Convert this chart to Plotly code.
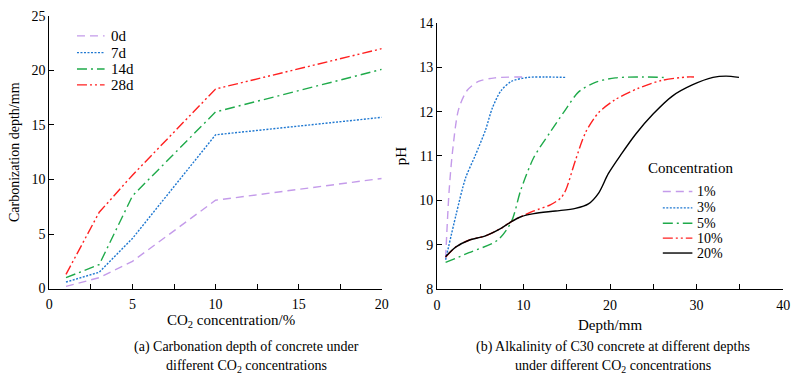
import plotly.graph_objects as go

# ---------- data: panel (a) ----------
conc_a = [1, 3, 5, 10, 20]
days_names = ["0d", "7d", "14d", "28d"]
depth_0d = [0.2, 1.0, 2.5, 8.1, 10.1]
depth_7d = [0.6, 1.5, 4.6, 14.1, 15.7]
depth_14d = [1.0, 2.2, 8.5, 16.2, 20.1]
depth_28d = [1.3, 7.0, 10.4, 18.3, 22.0]

# ---------- data: panel (b) ----------
conc_names = ["1%", "3%", "5%", "10%", "20%"]
x_1 = [1, 1.4, 1.8, 2.5, 3.5, 4.8, 6.7, 10.1]
y_1 = [8.7, 10.2, 11.1, 12.05, 12.48, 12.68, 12.76, 12.78]
x_3 = [1, 2.2, 3.3, 4.4, 5.6, 6.4, 7.4, 8.6, 10.5, 12.5, 15]
y_3 = [8.66, 9.67, 10.5, 11.0, 11.58, 12.08, 12.47, 12.68, 12.77, 12.78, 12.77]
x_5 = [1, 3.7, 7.0, 8.6, 9.7, 11.2, 13.1, 14.7, 16.4, 18.3, 20.6, 23.2, 26.2]
y_5 = [8.6, 8.82, 9.1, 9.52, 10.24, 10.97, 11.54, 12.0, 12.45, 12.66, 12.76, 12.78, 12.77]
x_10 = [1, 2.2, 3.7, 5.6, 7.5, 8.6, 9.7, 11.2, 13.1, 14.3, 14.9, 16.0, 17.2, 18.7, 20.6, 23.2, 25.9, 28.9, 29.7]
y_10 = [8.72, 8.95, 9.1, 9.2, 9.38, 9.52, 9.63, 9.76, 9.9, 10.05, 10.24, 10.9, 11.54, 11.98, 12.27, 12.52, 12.7, 12.78, 12.78]
x_20 = [1, 2.2, 3.7, 5.6, 7.5, 8.6, 9.7, 11.2, 13.7, 16.0, 17.5, 18.7, 19.8, 21.3, 23.0, 25.0, 27.2, 29.5, 31.9, 33.4, 34.9]
y_20 = [8.73, 8.95, 9.1, 9.2, 9.38, 9.52, 9.63, 9.7, 9.76, 9.82, 9.92, 10.17, 10.6, 11.04, 11.5, 11.95, 12.35, 12.6, 12.77, 12.8, 12.77]

xticks_a = [0, 2.5, 5, 7.5, 10, 12.5, 15, 17.5, 20]
xtext_a = ["0", "", "5", "", "10", "", "15", "", "20"]
yticks_a = [0, 5, 10, 15, 20, 25]
xticks_b = [0, 5, 10, 15, 20, 25, 30, 35, 40]
xtext_b = ["0", "", "10", "", "20", "", "30", "", "40"]
yticks_b = [8, 9, 10, 11, 12, 13, 14]

W, H = 799, 385
FONT = "Liberation Serif"

purple = "#C49BEA"
blue = "#1F78D1"
green = "#1FAA4A"
red = "#FF2020"
black = "#000000"

styles = [
    dict(color=purple, dash="8px,5px"),
    dict(color=blue, dash="2px,1.5px"),
    dict(color=green, dash="10px,4px,2px,4px"),
    dict(color=red, dash="10px,3px,2px,3px,2px,3px"),
    dict(color=black, dash="solid"),
]

fig = go.Figure()

series_a = [depth_0d, depth_7d, depth_14d, depth_28d]
for name, ys, st in zip(days_names, series_a, styles):
    fig.add_trace(go.Scatter(x=conc_a, y=ys, mode="lines", name=name,
                             line=dict(color=st["color"], dash=st["dash"], width=1.4),
                             xaxis="x", yaxis="y", showlegend=False))

series_b = [(x_1, y_1), (x_3, y_3), (x_5, y_5), (x_10, y_10), (x_20, y_20)]
for name, (xs, ys), st in zip(conc_names, series_b, styles):
    fig.add_trace(go.Scatter(x=xs, y=ys, mode="lines", name=name,
                             line=dict(color=st["color"], dash=st["dash"], width=1.4,
                                       shape="spline", smoothing=0.8),
                             xaxis="x2", yaxis="y2", showlegend=False))

def px_x(p):
    return p / W

def px_y(p):
    return 1 - p / H

axis_common = dict(showgrid=False, zeroline=False, showline=True, linecolor="black",
                   linewidth=1, ticks="inside", ticklen=5, tickcolor="black",
                   tickfont=dict(family=FONT, size=14, color="black"),
                   mirror=False)

fig.update_layout(
    width=W, height=H,
    margin=dict(l=0, r=0, t=0, b=0),
    paper_bgcolor="white", plot_bgcolor="white",
    font=dict(family=FONT, size=14, color="black"),
    xaxis=dict(domain=[px_x(46), px_x(383)], range=[0, 20], tickvals=xticks_a,
               ticktext=xtext_a, anchor="y", ticklabelstandoff=3,
               **axis_common),
    yaxis=dict(domain=[px_y(293), px_y(9.3)], range=[0, 25], tickvals=yticks_a,
               anchor="x",
               title=dict(text="Carbonization depth/mm", standoff=8,
                          font=dict(family=FONT, size=14)),
               **axis_common),
    xaxis2=dict(domain=[px_x(439), px_x(790)], range=[0, 40], tickvals=xticks_b,
                ticktext=xtext_b, anchor="y2", ticklabelstandoff=3,
                title=dict(text="Depth/mm", standoff=7, font=dict(family=FONT, size=15)),
                **axis_common),
    yaxis2=dict(domain=[px_y(293.5), px_y(16.5)], range=[8, 14], tickvals=yticks_b,
                anchor="x2",
                title=dict(text="pH", standoff=8, font=dict(family=FONT, size=15)),
                **axis_common),
)

# x title of panel (a) and captions
texts = [
    (230, 327, "CO<sub>2</sub> concentration/%", 15),
    (246, 354, "(a) Carbonation depth of concrete under", 14),
    (246, 374, "different CO<sub>2</sub> concentrations", 14),
    (618, 354, "(b) Alkalinity of C30 concrete at different depths", 14),
    (618, 374, "under different CO<sub>2</sub> concentrations", 14),
]
for cx, cy, txt, fs in texts:
    fig.add_annotation(x=px_x(cx), y=px_y(cy), xref="paper", yref="paper", text=txt,
                       showarrow=False, xanchor="center", yanchor="middle",
                       font=dict(family=FONT, size=fs, color="black"))

# manual legends
def add_legend(names, ys, x0, x1, xt, sts, fs):
    for name, yy, st in zip(names, ys, sts):
        fig.add_shape(type="line", xref="paper", yref="paper",
                      x0=px_x(x0), x1=px_x(x1), y0=px_y(yy), y1=px_y(yy),
                      line=dict(color=st["color"], dash=st["dash"], width=1.4))
        fig.add_annotation(x=px_x(xt), y=px_y(yy), xref="paper", yref="paper", text=name,
                           showarrow=False, xanchor="left", yanchor="middle",
                           font=dict(family=FONT, size=fs, color="black"))

add_legend(days_names, [30, 47.5, 64.5, 81], 74, 102, 106, styles, 15)
fig.add_annotation(x=px_x(651), y=px_y(168), xref="paper", yref="paper", text="Concentration",
                   showarrow=False, xanchor="left", yanchor="middle",
                   font=dict(family=FONT, size=15, color="black"))
add_legend(conc_names, [192, 209, 225, 240.5, 256], 668, 698, 701, styles, 14)

fig.write_html("out.html")
